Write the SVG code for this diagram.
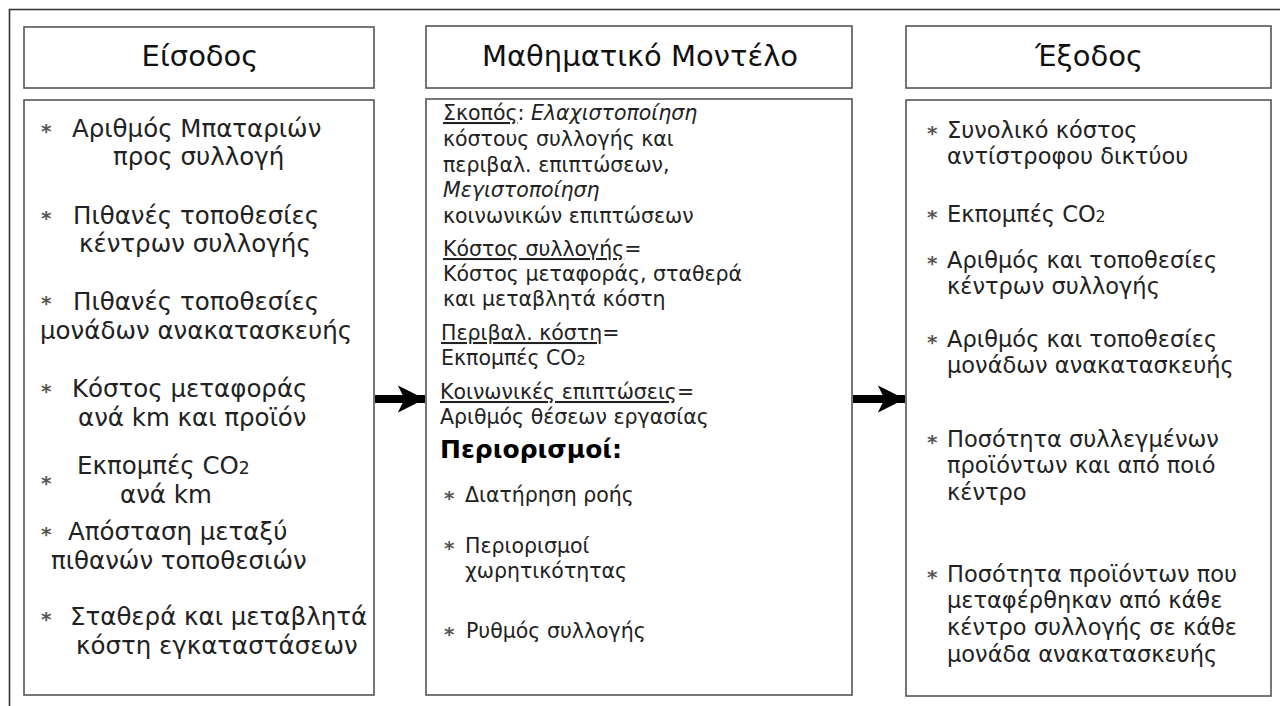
<svg xmlns="http://www.w3.org/2000/svg" width="1280" height="706" viewBox="0 0 1280 706">
<style>
.box{fill:#fff;stroke:#555;stroke-width:1.6}
.hdr{font-family:"DejaVu Sans",sans-serif;font-size:29px;fill:#111;text-anchor:middle}
.l{font-family:"DejaVu Sans",sans-serif;font-size:24.5px;fill:#222}
.m{font-family:"DejaVu Sans",sans-serif;font-size:20.5px;fill:#222}
.r{font-family:"DejaVu Sans",sans-serif;font-size:22.5px;fill:#222}
.ast{fill:#555;font-size:20px;font-weight:bold}
.u{text-decoration:underline}
.i{font-style:italic}
.b{font-weight:bold;font-size:25px;fill:#000}
.sub{font-size:0.7em}
</style>
<defs>
<marker id="ah" viewBox="0 0 10 10" refX="10" refY="5" markerWidth="3.4" markerHeight="3.4" markerUnits="strokeWidth" orient="auto">
<path d="M0,0 L10,5 L0,10 L2.5,5 Z" fill="#000"/>
</marker>
</defs>
<rect width="1280" height="706" fill="#fff"/>
<path d="M9.5,706 V9.5 H1280" fill="none" stroke="#333" stroke-width="1.6"/>

<g id="input-header">
<rect class="box" x="24" y="27" width="350" height="61"/>
<text class="hdr" x="200" y="66">Είσοδος</text>
</g>
<g id="model-header">
<rect class="box" x="426" y="26" width="426" height="62"/>
<text class="hdr" x="640" y="66">Μαθηματικό Μοντέλο</text>
</g>
<g id="output-header">
<rect class="box" x="906" y="26" width="365" height="62"/>
<text class="hdr" x="1089" y="66">Έξοδος</text>
</g>

<g id="input-box">
<rect class="box" x="24" y="100" width="350" height="595"/>
<text class="l"><tspan class="ast" x="41" y="138">*</tspan><tspan x="72" y="137">Αριθμός Μπαταριών</tspan></text>
<text class="l" x="113" y="165">προς συλλογή</text>
<text class="l"><tspan class="ast" x="41" y="225">*</tspan><tspan x="73" y="224">Πιθανές τοποθεσίες</tspan></text>
<text class="l" x="79" y="252">κέντρων συλλογής</text>
<text class="l"><tspan class="ast" x="41" y="310">*</tspan><tspan x="73" y="310">Πιθανές τοποθεσίες</tspan></text>
<text class="l" x="40" y="339">μονάδων ανακατασκευής</text>
<text class="l"><tspan class="ast" x="41" y="398">*</tspan><tspan x="72" y="397">Κόστος μεταφοράς</tspan></text>
<text class="l" x="78" y="426">ανά km και προϊόν</text>
<text class="l"><tspan class="ast" x="41" y="490">*</tspan><tspan x="77" y="474">Εκπομπές CO<tspan class="sub">2</tspan></tspan></text>
<text class="l" x="120" y="503">ανά km</text>
<text class="l"><tspan class="ast" x="41" y="541">*</tspan><tspan x="68" y="540">Απόσταση μεταξύ</tspan></text>
<text class="l" x="51" y="569">πιθανών τοποθεσιών</text>
<text class="l"><tspan class="ast" x="41" y="626">*</tspan><tspan x="70" y="625">Σταθερά και μεταβλητά</tspan></text>
<text class="l" x="76" y="654">κόστη εγκαταστάσεων</text>
</g>

<g id="model-box">
<rect class="box" x="426" y="99" width="426" height="596"/>
<text class="m" x="443" y="120"><tspan class="u">Σκοπός</tspan>: <tspan class="i">Ελαχιστοποίηση</tspan></text>
<text class="m" x="443" y="146">κόστους συλλογής και</text>
<text class="m" x="443" y="172">περιβαλ. επιπτώσεων,</text>
<text class="m i" x="443" y="197">Μεγιστοποίηση</text>
<text class="m" x="443" y="223">κοινωνικών επιπτώσεων</text>
<text class="m" x="443" y="256"><tspan class="u">Κόστος συλλογής</tspan>=</text>
<text class="m" x="443" y="281">Κόστος μεταφοράς, σταθερά</text>
<text class="m" x="443" y="306">και μεταβλητά κόστη</text>
<text class="m" x="441" y="340"><tspan class="u">Περιβαλ. κόστη</tspan>=</text>
<text class="m" x="441" y="365">Εκπομπές CO<tspan class="sub">2</tspan></text>
<text class="m" x="440" y="399"><tspan class="u">Κοινωνικές επιπτώσεις</tspan>=</text>
<text class="m" x="440" y="424">Αριθμός θέσεων εργασίας</text>
<text class="m b" x="440" y="458">Περιορισμοί:</text>
<text class="m"><tspan class="ast" x="444" y="505">*</tspan><tspan x="465" y="502">Διατήρηση ροής</tspan></text>
<text class="m"><tspan class="ast" x="444" y="555">*</tspan><tspan x="465" y="553">Περιορισμοί</tspan></text>
<text class="m" x="465" y="578">χωρητικότητας</text>
<text class="m"><tspan class="ast" x="444" y="641">*</tspan><tspan x="466" y="638">Ρυθμός συλλογής</tspan></text>
</g>

<g id="output-box">
<rect class="box" x="906" y="100" width="365" height="596"/>
<text class="r"><tspan class="ast" x="927" y="140">*</tspan><tspan x="947" y="138">Συνολικό κόστος</tspan></text>
<text class="r" x="947" y="164">αντίστροφου δικτύου</text>
<text class="r"><tspan class="ast" x="927" y="224">*</tspan><tspan x="947" y="222">Εκπομπές CO<tspan class="sub">2</tspan></tspan></text>
<text class="r"><tspan class="ast" x="927" y="270">*</tspan><tspan x="947" y="268">Αριθμός και τοποθεσίες</tspan></text>
<text class="r" x="947" y="294">κέντρων συλλογής</text>
<text class="r"><tspan class="ast" x="927" y="349">*</tspan><tspan x="947" y="347">Αριθμός και τοποθεσίες</tspan></text>
<text class="r" x="947" y="373">μονάδων ανακατασκευής</text>
<text class="r"><tspan class="ast" x="927" y="449">*</tspan><tspan x="947" y="447">Ποσότητα συλλεγμένων</tspan></text>
<text class="r" x="947" y="473">προϊόντων και από ποιό</text>
<text class="r" x="947" y="500">κέντρο</text>
<text class="r"><tspan class="ast" x="927" y="584">*</tspan><tspan x="947" y="582">Ποσότητα προϊόντων που</tspan></text>
<text class="r" x="947" y="608">μεταφέρθηκαν από κάθε</text>
<text class="r" x="947" y="635">κέντρο συλλογής σε κάθε</text>
<text class="r" x="947" y="662">μονάδα ανακατασκευής</text>
</g>

<g id="connectors">
<line x1="375" y1="399" x2="425" y2="399" stroke="#000" stroke-width="8" marker-end="url(#ah)"/>
<line x1="853" y1="399" x2="905" y2="399" stroke="#000" stroke-width="8" marker-end="url(#ah)"/>
</g>
</svg>
